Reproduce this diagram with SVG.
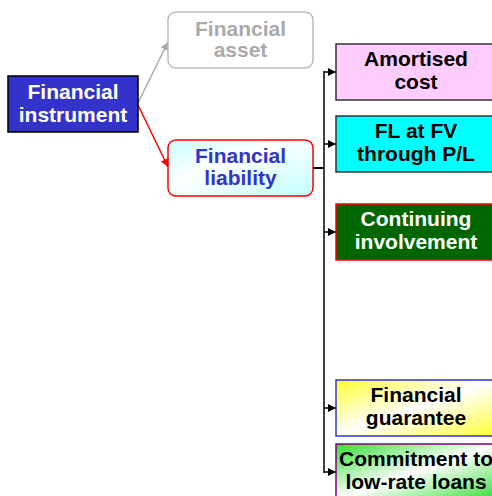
<svg xmlns="http://www.w3.org/2000/svg" width="492" height="496" viewBox="0 0 492 496">
<style>
text{font-family:"Liberation Sans",Arial,sans-serif;font-weight:bold;font-size:21px;text-anchor:middle}
.b{stroke-width:1.5}
</style>
<defs>
<linearGradient id="gLiab" x1="0" y1="0" x2="1" y2="1">
<stop offset="0" stop-color="#CCFFFF"/><stop offset="0.4" stop-color="#FFFFFF"/><stop offset="1" stop-color="#BFFFFF"/>
</linearGradient>
<linearGradient id="gGuar" x1="0" y1="0" x2="1" y2="1">
<stop offset="0" stop-color="#FFFF33"/><stop offset="0.5" stop-color="#FFFFFF"/><stop offset="1" stop-color="#FFFF33"/>
</linearGradient>
<linearGradient id="gComm" x1="0" y1="0" x2="1" y2="1">
<stop offset="0" stop-color="#33DD33"/><stop offset="0.5" stop-color="#FFFFFF"/><stop offset="1" stop-color="#33DD33"/>
</linearGradient>
<marker id="ak" markerWidth="8" markerHeight="8" refX="8" refY="4" orient="auto" markerUnits="userSpaceOnUse"><path d="M0,0 L8,4 L0,8 z" fill="#000"/></marker>
<marker id="ar" markerWidth="8" markerHeight="8" refX="8" refY="4" orient="auto" markerUnits="userSpaceOnUse"><path d="M0,0 L8,4 L0,8 z" fill="#FF0000"/></marker>
<marker id="ag" markerWidth="8" markerHeight="8" refX="8" refY="4" orient="auto" markerUnits="userSpaceOnUse"><path d="M0,0 L8,4 L0,8 z" fill="#AAAAAA"/></marker>
</defs>
<g id="connectors" fill="none">
<line x1="138" y1="103" x2="168" y2="42" stroke="#AAAAAA" stroke-width="1.5" marker-end="url(#ag)"/>
<line x1="138" y1="105" x2="168" y2="167" stroke="#FF0000" stroke-width="1.5" marker-end="url(#ar)"/>
<line x1="313" y1="168" x2="324" y2="168" stroke="#000" stroke-width="2"/>
<line x1="324" y1="71" x2="324" y2="473" stroke="#000" stroke-width="1.5"/>
<line x1="324" y1="72" x2="336" y2="72" stroke="#000" stroke-width="1.5" marker-end="url(#ak)"/>
<line x1="324" y1="144" x2="336" y2="144" stroke="#000" stroke-width="1.5" marker-end="url(#ak)"/>
<line x1="324" y1="232" x2="336" y2="232" stroke="#000" stroke-width="1.5" marker-end="url(#ak)"/>
<line x1="324" y1="408" x2="336" y2="408" stroke="#000" stroke-width="1.5" marker-end="url(#ak)"/>
<line x1="324" y1="472" x2="336" y2="472" stroke="#000" stroke-width="1.5" marker-end="url(#ak)"/>
</g>
<g id="instrument">
<rect x="8" y="76" width="130" height="56" fill="#3333CC" stroke="#000" class="b"/>
<text x="73" y="99" fill="#FFFFFF">Financial</text>
<text x="73" y="122" fill="#FFFFFF">instrument</text>
</g>
<g id="asset">
<rect x="168" y="12" width="145" height="56" rx="8" fill="#FFFFFF" stroke="#BBBBBB" class="b"/>
<text x="240.5" y="36" fill="#AAAAAA">Financial</text>
<text x="240.5" y="57" fill="#AAAAAA">asset</text>
</g>
<g id="liability">
<rect x="168" y="140" width="145" height="56" rx="8" fill="url(#gLiab)" stroke="#FF0000" class="b"/>
<text x="240.5" y="163" fill="#3333CC">Financial</text>
<text x="240.5" y="185" fill="#3333CC">liability</text>
</g>
<g id="amortised">
<rect x="336" y="44" width="160" height="56" fill="#FFCCFF" stroke="#333333" class="b"/>
<text x="416" y="66" fill="#000">Amortised</text>
<text x="416" y="89" fill="#000">cost</text>
</g>
<g id="flfv">
<rect x="336" y="116" width="160" height="56" fill="#00FFFF" stroke="#333333" class="b"/>
<text x="416" y="138" fill="#000">FL at FV</text>
<text x="416" y="161" fill="#000">through P/L</text>
</g>
<g id="continuing">
<rect x="336" y="204" width="160" height="56" fill="#006600" stroke="#FF0000" class="b"/>
<text x="416" y="226" fill="#FFFFFF">Continuing</text>
<text x="416" y="249" fill="#FFFFFF">involvement</text>
</g>
<g id="guarantee">
<rect x="336" y="380" width="160" height="56" fill="url(#gGuar)" stroke="#3333CC" class="b"/>
<text x="416" y="402" fill="#000">Financial</text>
<text x="416" y="425" fill="#000">guarantee</text>
</g>
<g id="commitment">
<rect x="336" y="444" width="160" height="56" fill="url(#gComm)" stroke="#800080" class="b"/>
<text x="416" y="466" fill="#000">Commitment to</text>
<text x="416" y="489" fill="#000">low-rate loans</text>
</g>
</svg>
